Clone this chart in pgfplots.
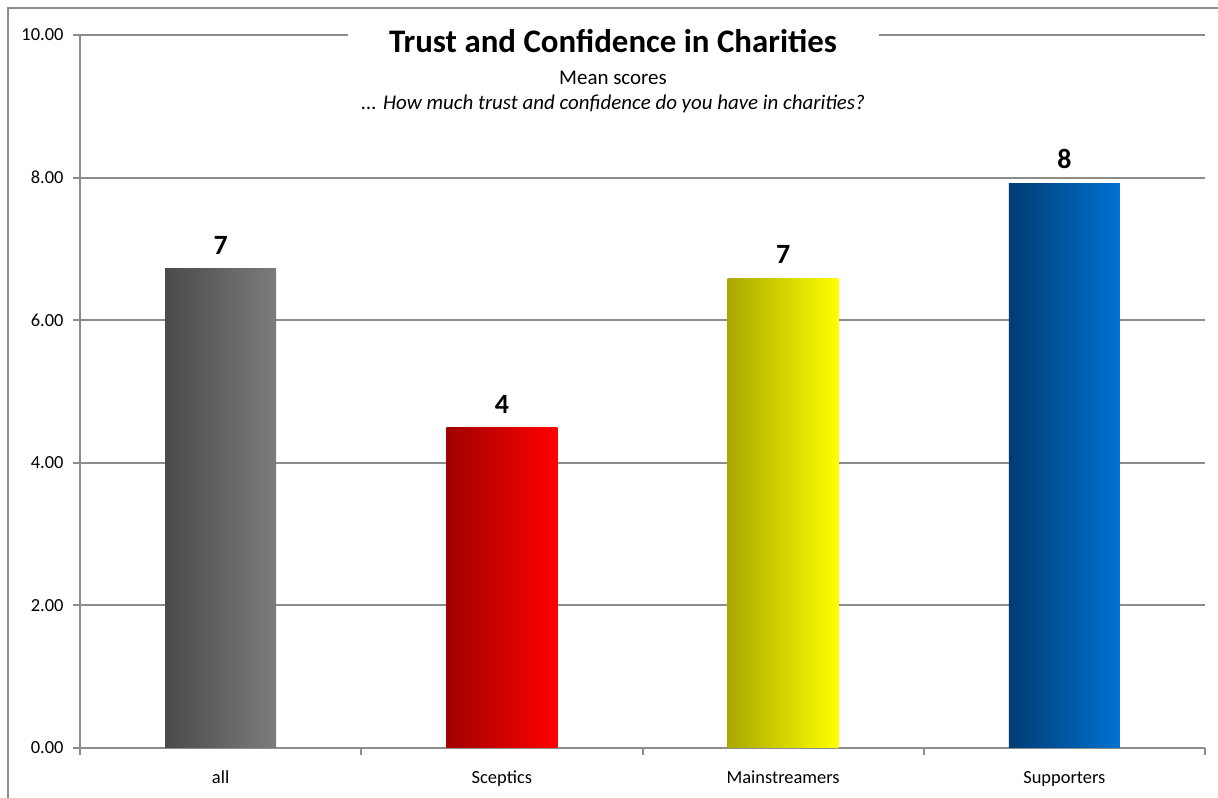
\documentclass[border=0pt]{standalone}
\usepackage{pgfplots}
\pgfplotsset{compat=1.18}
\usepackage{fontspec}
\setmainfont{Carlito}
\definecolor{gridgray}{HTML}{8C8C8C}
\definecolor{allL}{HTML}{4A4A4A}
\definecolor{allR}{HTML}{7C7C7C}
\definecolor{scL}{HTML}{A00000}
\definecolor{scR}{HTML}{FF0000}
\definecolor{msL}{HTML}{A8A800}
\definecolor{msR}{HTML}{FFFF00}
\definecolor{spL}{HTML}{003C74}
\definecolor{spR}{HTML}{0072D2}
\begin{document}
\begin{tikzpicture}[x=1bp,y=1bp]
\path[use as bounding box] (0,0) rectangle (1218,798);
\draw[gridgray, line width=2bp] (8,0) -- (8,790) -- (1218,790);
\begin{axis}[
  at={(80bp,50bp)}, anchor=south west,
  scale only axis, width=1125bp, height=713bp,
  xmin=-0.5, xmax=3.5, ymin=0, ymax=10,
  axis x line=bottom, axis y line=left,
  axis line style={-, draw=gridgray, line width=2bp},
  ytick={0,2,4,6,8,10},
  ymajorgrids, grid style={gridgray, line width=2bp},
  xtick={-0.5,0.5,1.5,2.5,3.5},
  x tick label as interval,
  xticklabels={all,Sceptics,Mainstreamers,Supporters},
  tick align=outside, major tick length=7bp,
  tick style={gridgray, line width=2bp},
  /pgf/number format/assume math mode=true,
  yticklabel style={/pgf/number format/fixed, /pgf/number format/fixed zerofill, /pgf/number format/precision=2, xshift=-6bp},
  tick label style={font=\fontsize{18.5}{18.5}\selectfont, text=black},
  xticklabel style={text height=13bp, text depth=4bp, yshift=-12bp},
  bar width=111bp,
  every axis plot/.append style={ybar, bar shift=0pt, draw=none},
  nodes near coords,
  nodes near coords style={font=\bfseries\fontsize{28}{28}\selectfont, text=black, anchor=south, inner sep=0pt, yshift=14bp, /pgf/number format/fixed, /pgf/number format/precision=0},
]
\addplot[left color=allL, right color=allR] coordinates {(0,6.72)};
\addplot[left color=scL, right color=scR] coordinates {(1,4.49)};
\addplot[left color=msL, right color=msR] coordinates {(2,6.59)};
\addplot[left color=spL, right color=spR] coordinates {(3,7.92)};
\end{axis}
\fill[white] (348,676) rectangle (879,784);
\node[anchor=base, font=\bfseries\fontsize{33}{33}\selectfont] at (613,745) {Trust and Confidence in Charities};
\node[anchor=base, font=\fontsize{21}{21}\selectfont] at (613,713) {Mean scores};
\node[anchor=base, font=\itshape\fontsize{21}{21}\selectfont] at (613,688) {... How much trust and confidence do you have in charities?};
\end{tikzpicture}
\end{document}
